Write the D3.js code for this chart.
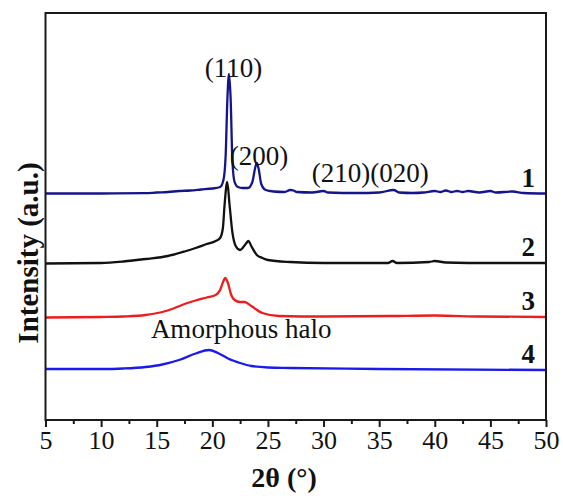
<!DOCTYPE html>
<html>
<head>
<meta charset="utf-8">
<title>XRD patterns</title>
<style>
    body { margin: 0; padding: 0; background: white; }
    svg text, .tick text { font-family: "Liberation Serif", "Times New Roman", Times, serif; }
    .frame { fill: none; stroke: #1a1a1a; stroke-width: 2; }
    .trace { fill: none; stroke-width: 2.3; stroke-linejoin: round; }
</style>
</head>
<body>
<div id="chart"></div>
<script src="https://d3js.org/d3.v7.min.js"></script>
<script>
    // 2theta (deg) / intensity (a.u., offset per sample)
    var series1 = [[5,226.5],[10,226.5],[14,226.8],[15,227.5],[16,228],[17,229],[18,229.5],[19,230.5],[20,231.5],
        [20.7,233],[21.0,240],[21.2,265],[21.35,320],[21.5,346],[21.65,320],[21.8,260],[22.0,238],[22.3,233],
        [22.7,232],[23.2,232],[23.6,238],[23.85,252],[24.0,257],[24.15,252],[24.4,236],[24.8,230],[25.5,228.5],
        [26.5,228],[27,230],[27.3,229.5],[27.6,228],[29,227.5],[30,229],[30.4,227.5],[33,227],[35,227.5],
        [36.3,230],[36.8,227.5],[38,227],[39,227.5],[40,229],[40.5,228],[41,229.5],[41.5,228],[42,229],
        [42.5,228],[43,229],[44,227.5],[45,229],[45.5,227.5],[47,228.5],[48,227],[50,226.5]];
    var series2 = [[5,156.5],[10,157],[12,158.5],[14,161],[16,164],[17.5,168.5],[18.5,172],[19.5,176],[20.3,179],
        [20.7,182],[20.95,192],[21.1,215],[21.34,238],[21.55,215],[21.8,188],[22.1,174],[22.5,170],[23.0,176],
        [23.25,179],[23.5,174],[24,165],[24.5,162],[25,160],[27,158],[30,157],[35.8,157],[36.2,159],[36.6,157],
        [39.5,158],[40,159],[41,157.5],[45,157],[50,157]];
    var series3 = [[5,102.5],[10,103],[12,103.5],[14,105],[15.5,108],[16.5,111.5],[17.5,116],[18.5,119.5],
        [19.5,122.5],[20.3,125],[20.7,130],[21.0,139],[21.15,142],[21.4,137],[21.7,125],[22.0,120],[22.5,118],
        [22.9,118],[23.5,114],[24.5,107],[26,104],[30,103.5],[36,104],[40,104.5],[44,103.5],[50,103]];
    var series4 = [[5,51],[10,51],[12,51.5],[14,53],[15.5,55.5],[17,60],[18.5,66.5],[19.7,70],[20.5,67],
        [21.5,61],[22.5,57],[23.5,54],[25,52.5],[27,52],[35,51],[50,50]];

    var seriesColors = ["#14148c", "#111111", "#ee1c1c", "#1a1aee"];
    var seriesLabels = ["1", "2", "3", "4"];
    var majorTicks = [5, 10, 15, 20, 25, 30, 35, 40, 45, 50];
    var minorTicks = [7.5, 12.5, 17.5, 22.5, 27.5, 32.5, 37.5, 42.5, 47.5];
    var peakLabels = [
        {text: "(110)", x: 21.9, y: 343},
        {text: "(200)", x: 24.2, y: 255},
        {text: "(210)(020)", x: 34.2, y: 238},
        {text: "Amorphous halo", x: 22.6, y: 82}
    ];

    var width = 563, height = 498;
    var margin = {top: 13, left: 45.5, right: 17, bottom: 78};

    var svg = d3.select("#chart").append("svg")
        .attr("width", width)
        .attr("height", height);

    var x = d3.scaleLinear().domain([5, 50]).range([margin.left, width - margin.right]);
    var y = d3.scaleLinear().domain([0, 407]).range([height - margin.bottom, margin.top]);

    var line = d3.line()
        .x(function (d) { return x(d[0]); })
        .y(function (d) { return y(d[1]); })
        .curve(d3.curveMonotoneX);

    var allSeries = [series1, series2, series3, series4];

    svg.append("g")
        .selectAll("path")
        .data(allSeries)
        .enter()
        .append("path")
        .attr("class", "trace")
        .attr("d", line)
        .attr("stroke", function (d, i) { return seriesColors[i]; });

    // bottom axis, outward ticks
    var xAxis = svg.append("g")
        .attr("transform", "translate(0," + y(0) + ")")
        .call(d3.axisBottom(x).tickValues(majorTicks).tickSize(7).tickSizeOuter(0).tickPadding(4));
    xAxis.attr("font-family", null);
    xAxis.select(".domain").remove();
    xAxis.selectAll(".tick line").attr("stroke", "#1a1a1a").attr("stroke-width", 2);
    xAxis.selectAll(".tick text").attr("font-size", 26).attr("fill", "#111");

    var xMinor = svg.append("g")
        .attr("transform", "translate(0," + y(0) + ")")
        .call(d3.axisBottom(x).tickValues(minorTicks).tickSize(4).tickFormat(""));
    xMinor.select(".domain").remove();
    xMinor.selectAll(".tick line").attr("stroke", "#1a1a1a").attr("stroke-width", 2);

    svg.append("rect")
        .attr("class", "frame")
        .attr("x", x(5))
        .attr("y", y(407))
        .attr("width", x(50) - x(5))
        .attr("height", y(0) - y(407));

    // sample numbers
    svg.append("g")
        .selectAll("text")
        .data(allSeries)
        .enter()
        .append("text")
        .attr("x", x(48.4))
        .attr("y", function (d) { return y(d[d.length - 1][1]) - 7; })
        .attr("text-anchor", "middle")
        .attr("font-size", 27)
        .attr("font-weight", "bold")
        .attr("fill", "#111")
        .text(function (d, i) { return seriesLabels[i]; });

    svg.append("g")
        .selectAll("text")
        .data(peakLabels)
        .enter()
        .append("text")
        .attr("x", function (d) { return x(d.x); })
        .attr("y", function (d) { return y(d.y); })
        .attr("text-anchor", "middle")
        .attr("font-size", 27)
        .attr("fill", "#111")
        .text(function (d) { return d.text; });

    svg.append("text")
        .attr("x", 284)
        .attr("y", 487)
        .attr("text-anchor", "middle")
        .attr("font-size", 28)
        .attr("font-weight", "bold")
        .attr("fill", "#111")
        .text("2θ (°)");

    svg.append("text")
        .attr("transform", "translate(38,253) rotate(-90)")
        .attr("text-anchor", "middle")
        .attr("font-size", 29)
        .attr("font-weight", "bold")
        .attr("fill", "#111")
        .text("Intensity (a.u.)");
</script>
</body>
</html>
